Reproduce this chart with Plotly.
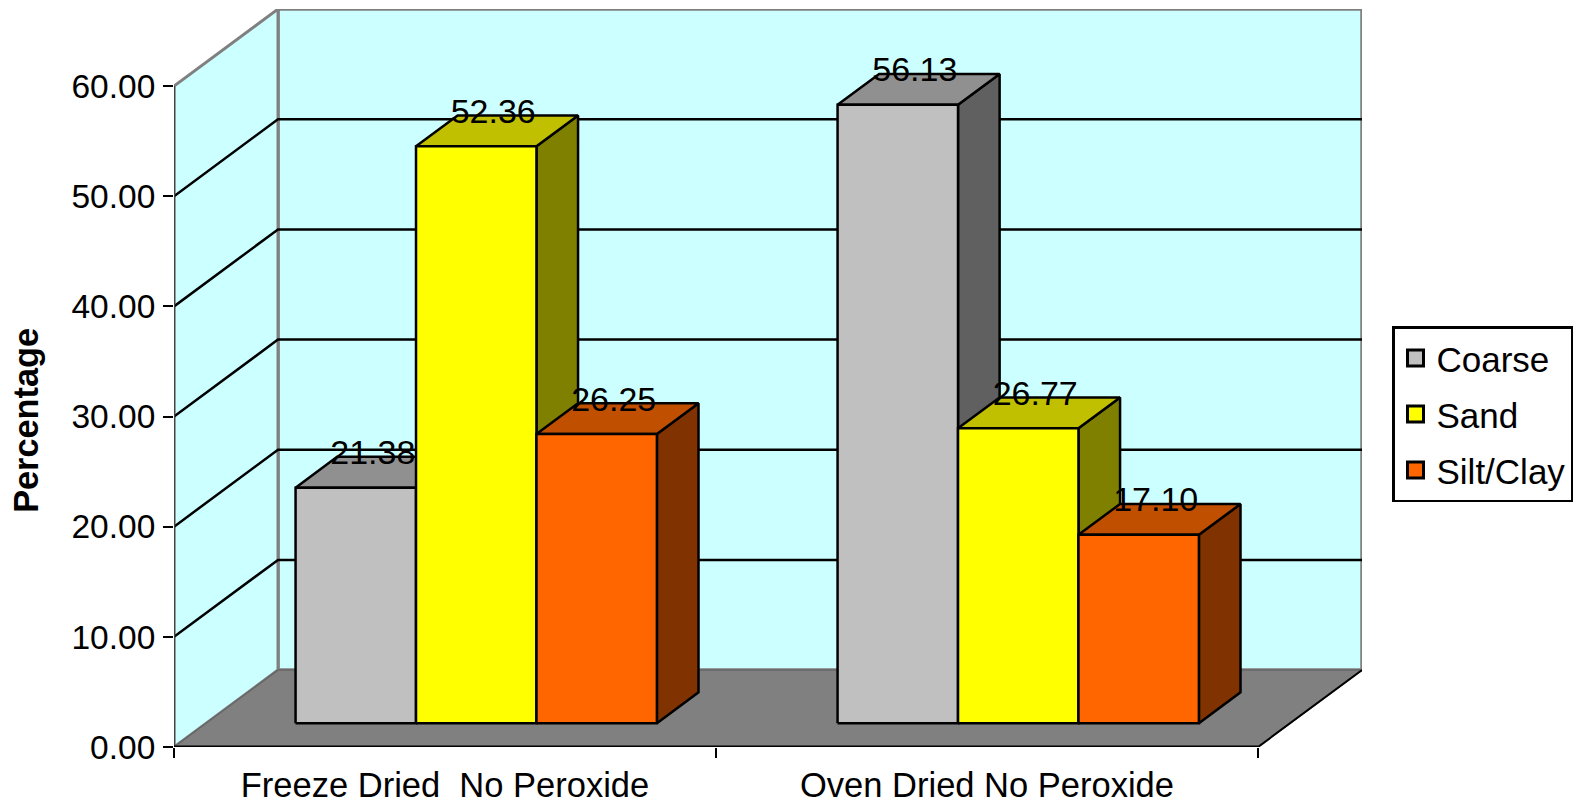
import plotly.graph_objects as go

categories = ["Freeze\u00a0Dried\u00a0\u00a0No\u00a0Peroxide", "Oven\u00a0Dried\u00a0No\u00a0Peroxide"]
series_names = ["Coarse", "Sand", "Silt/Clay"]
coarse = [21.38, 56.13]
sand = [52.36, 26.77]
silt_clay = [26.25, 17.10]
y_ticks = [0, 10, 20, 30, 40, 50, 60]

front_colors = ["#C0C0C0", "#FFFF00", "#FF6600"]
top_colors = ["#909090", "#C0C000", "#C05000"]
side_colors = ["#606060", "#808000", "#803300"]

W, H = 1576, 803
L, R, T, B = 174, 1362, 9, 747.3
PX_PER_X = 542.0
PX_PER_Y = 11.02
DX = 104 / PX_PER_X
DY = 77 / PX_PER_Y
D0, D1 = 0.31, 0.71
BAR_W = 2 / 9
GAP = (1 - 3 * BAR_W) / 2
BAR_SHIFT = -1.0 / PX_PER_X
FONT = "Liberation Sans, Arial, sans-serif"
FS = 33.5

fig = go.Figure()


def poly(xs, ys, fill=None, line="black", width=2.5):
    fig.add_trace(go.Scatter(
        x=xs, y=ys, mode="lines" if width else "none",
        fill="toself" if fill else None, fillcolor=fill,
        line=dict(color=line, width=width or 0),
        showlegend=False, hoverinfo="skip", cliponaxis=False,
    ))


# walls and floor
poly([DX, 2 + DX, 2 + DX, DX, DX], [DY, DY, 60 + DY, 60 + DY, DY], "#CCFFFF", "#808080", 3.5)
poly([0, DX, DX, 0, 0], [0, DY, 60 + DY, 60, 0], "#CCFFFF", "#808080", 3)
for v in y_ticks[1:-1]:
    poly([0, DX, 2 + DX], [v, v + DY, v + DY], None, "black", 2.5)
poly([0, 2, 2 + DX, DX, 0], [0, 0, DY, DY, 0], "#808080", "#666666", 1.5)
poly([2, 2 + DX], [0, DY], None, "black", 2)
poly([0, 0], [0, 60], None, "#444444", 2.5)
poly([0, 2], [0, 0], None, "black", 3)

# bars
label_x, label_y, label_t = [], [], []
for g in range(2):
    for s, vals in enumerate([coarse, sand, silt_clay]):
        v = vals[g]
        x0 = g + GAP + s * BAR_W + D0 * DX + BAR_SHIFT
        x1 = x0 + BAR_W
        dx = (D1 - D0) * DX
        dy = (D1 - D0) * DY
        y0 = D0 * DY
        y1 = y0 + v
        poly([x1, x1 + dx, x1 + dx, x1, x1], [y0, y0 + dy, y1 + dy, y1, y0], side_colors[s])
        poly([x0, x1, x1 + dx, x0 + dx, x0], [y1, y1, y1 + dy, y1 + dy, y1], top_colors[s])
        poly([x0, x1, x1, x0, x0], [y0, y0, y1, y1, y0], front_colors[s])
        label_x.append((x0 + x1) / 2 + 17 / PX_PER_X)
        label_y.append(y1 + 2.9)
        label_t.append(f"{v:.2f}")

fig.add_trace(go.Scatter(
    x=label_x, y=label_y, text=label_t, mode="text", textposition="middle center",
    textfont=dict(family=FONT, size=34, color="black"),
    showlegend=False, hoverinfo="skip", cliponaxis=False,
))

# legend entries
for name, c in zip(series_names, front_colors):
    fig.add_trace(go.Scatter(
        x=[None], y=[None], mode="markers", name=name, legendgroup=name,
        marker=dict(symbol="square", size=16, color=c, line=dict(color="black", width=3)),
    ))

fig.update_layout(
    width=W, height=H, autosize=False,
    margin=dict(l=L, r=W - R, t=T, b=H - B, pad=0, autoexpand=False),
    paper_bgcolor="white", plot_bgcolor="white",
    font=dict(family=FONT, size=FS, color="black"),
    xaxis=dict(
        range=[0, (R - L) / PX_PER_X], tickmode="array", tickvals=[0.5, 1.5], ticktext=categories,
        showgrid=False, zeroline=False, showline=False,
        ticks="outside", ticklen=8, tickcolor="rgba(0,0,0,0)",
        tickfont=dict(family=FONT, size=34.5),
        minor=dict(tickmode="array", tickvals=[0, 1, 2], ticks="outside", ticklen=10, tickwidth=2,
                   tickcolor="black", showgrid=False),
    ),
    yaxis=dict(
        range=[0, (B - T) / PX_PER_Y], tickmode="array", tickvals=y_ticks,
        ticktext=[f"{v:.2f}" for v in y_ticks],
        showgrid=False, zeroline=False, showline=False,
        ticks="outside", ticklen=10, tickwidth=2, tickcolor="black",
        ticklabelstandoff=1,
        tickfont=dict(family=FONT, size=FS),
    ),
    legend=dict(
        x=(1392 - L) / (R - L), xanchor="left", y=(B - 326.5) / (B - T), yanchor="top",
        bgcolor="white", bordercolor="black", borderwidth=2.5,
        font=dict(family=FONT, size=35), traceorder="grouped", tracegroupgap=7.5,
        itemwidth=32, entrywidth=134, itemclick=False, itemdoubleclick=False,
    ),
    annotations=[dict(
        text="<b>Percentage</b>", x=(26.5 - L) / (R - L), y=(B - 420.5) / (B - T), xref="paper", yref="paper",
        xanchor="center", yanchor="middle", textangle=-90, showarrow=False,
        font=dict(family=FONT, size=34.3, color="black"),
    )],
)
fig.write_html("out.html", config={"displayModeBar": False},
               post_script="document.body.style.margin='0';document.body.style.overflow='hidden';")
